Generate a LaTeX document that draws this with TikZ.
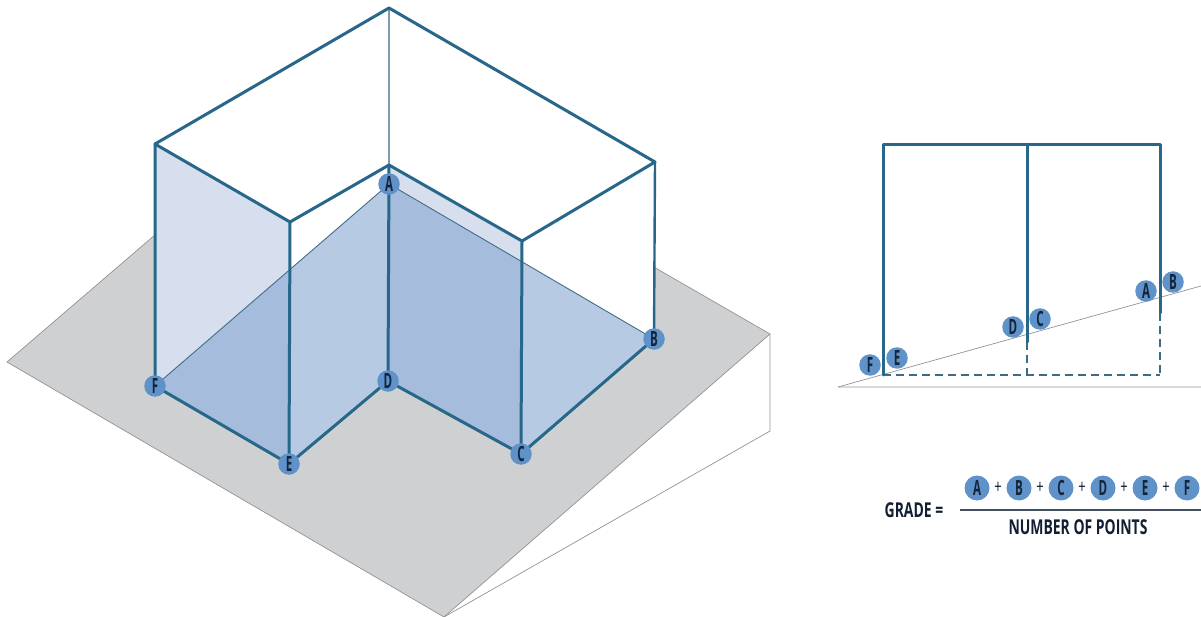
\documentclass[tikz,border=0pt]{standalone}
\usepackage{fontspec}
\setmainfont[FakeStretch=0.68]{Open Sans}
\newfontfamily\dotfont[FakeStretch=0.55]{Open Sans}
\usepackage{xcolor}
\usetikzlibrary{positioning, calc}
\definecolor{frameblue}{HTML}{26678A}
\definecolor{dotblue}{HTML}{5E92C8}
\definecolor{inkblue}{HTML}{14243A}
\definecolor{lotgray}{HTML}{CFD0D2}
\definecolor{wallblue}{HTML}{D7DFEE}
\definecolor{slopeblue}{HTML}{B7CAE4}
\definecolor{overlapblue}{HTML}{A6BCDC}
\tikzset{
  dot/.style={circle,fill=dotblue,inner sep=0pt,minimum size=21.5pt,text=inkblue,
    font=\dotfont\fontsize{21}{21}\selectfont\bfseries},
  bigdot/.style={dot,minimum size=25pt},
  frame/.style={draw=frameblue,line width=3pt,line join=round,line cap=round},
  thinframe/.style={draw=frameblue!60!gray!70,line width=1.4pt},
  hairline/.style={draw=gray!85,line width=0.7pt},
  slopeline/.style={draw=frameblue!70!gray,line width=0.9pt},
  dropline/.style={draw=frameblue!80!gray,line width=1.1pt,dash pattern=on 8pt off 5pt},
  formula/.style={text=inkblue!85!black,font=\fontsize{20.5}{20.5}\selectfont\bfseries,inner sep=0pt},
  plussign/.style={text=inkblue!85!black,font=\fontsize{19}{19}\selectfont,inner sep=0pt}
}
\begin{document}
\begin{tikzpicture}[x=1pt,y=-1pt]
  \useasboundingbox (0,0) rectangle (1201,617);

  \coordinate (lotL) at (7,362);
  \coordinate (lotT) at (333,82);
  \coordinate (lotR) at (770,334);
  \coordinate (lotB) at (444,617);
  \coordinate (lotD) at (770,431);
  \coordinate (topF) at (155,144);
  \coordinate (topE) at (290,222);
  \coordinate (topD) at (389,165);
  \coordinate (topC) at (522,241);
  \coordinate (topB) at (655,162);
  \coordinate (apex) at (389,8);
  \coordinate (baseA) at (389,184);
  \coordinate (baseB) at (654,339);
  \coordinate (baseC) at (521,454);
  \coordinate (baseD) at (388,381);
  \coordinate (baseE) at (289,464);
  \coordinate (baseF) at (155,386);

  \draw[hairline,fill=lotgray] (lotL) -- (lotT) -- (lotR) -- (lotB) -- cycle;
  \draw[hairline] (lotR) -- (lotD) -- (lotB);
  \fill[white] (topF) -- (apex) -- (topB) -- (baseB) -- (baseC) -- (baseD) -- (baseE) -- (baseF) -- cycle;
  \fill[slopeblue] (baseF) -- (baseA) -- (baseB) -- (baseC) -- (baseD) -- (baseE) -- cycle;
  \fill[wallblue] (topF) -- (topE) -- (baseE) -- (baseF) -- cycle;
  \fill[wallblue] (topD) -- (topC) -- (baseC) -- (baseD) -- cycle;
  \fill[overlapblue] (baseF) -- ($(baseF)!0.5755!(baseA)$) -- (baseE) -- cycle;
  \fill[overlapblue] (baseA) -- ($(baseA)!0.5!(baseB)$) -- (baseC) -- (baseD) -- cycle;

  \draw[slopeline] (baseF) -- (baseA) -- (baseB);
  \draw[thinframe] (apex) -- (topD);
  \draw[frame] (topF) -- (apex) -- (topB) -- (topC) -- (topD) -- (topE) -- cycle;
  \draw[frame] (topF) -- (baseF) -- (baseE) -- (baseD) -- (baseC) -- (baseB);
  \draw[frame] (topE) -- (baseE);
  \draw[frame] (topD) -- (baseD);
  \draw[frame] (topC) -- (baseC);
  \draw[frame,line width=2.4pt] (topB) -- (baseB);

  \node[dot] (ptA) at (baseA) {A};
  \node[dot] (ptB) at (baseB) {B};
  \node[dot] (ptC) at (baseC) {C};
  \node[dot] (ptD) at (baseD) {D};
  \node[dot] (ptE) at (baseE) {E};
  \node[dot] (ptF) at (baseF) {F};

  \coordinate (cutL) at (838,387);
  \coordinate (cutR) at (1201,286);
  \coordinate (flatR) at (1201,387);
  \coordinate (cutF) at (883,145);
  \coordinate (cutM) at (1027,145);
  \coordinate (cutA) at (1160,145);
  \coordinate (footF) at (883,375);
  \coordinate (footM) at (1027,342);
  \coordinate (footA) at (1160,313);
  \coordinate (dropM) at (1027,375);
  \coordinate (dropA) at (1160,375);

  \draw[draw=gray!30,line width=1.5pt] (cutL) -- (flatR);
  \draw[hairline] (cutL) -- (cutR);
  \draw[dropline] (footF) -- (dropA);
  \draw[dropline] (footM) -- (dropM);
  \draw[dropline] (footA) -- (dropA);
  \draw[frame] (footF) -- (cutF) -- (cutA) -- (footA);
  \draw[frame] (cutM) -- (footM);

  \node[dot] (cutptF) at (870,365) {F};
  \node[dot] (cutptE) at (897,358) {E};
  \node[dot] (cutptD) at (1013,327) {D};
  \node[dot] (cutptC) at (1040,319) {C};
  \node[dot] (cutptA) at (1146,291) {A};
  \node[dot] (cutptB) at (1173,282) {B};

  \node[formula] (grade) at (914,510) {GRADE =};
  \node[bigdot] (sumA) at (977,488) {A};
  \node[bigdot,right=16.6pt of sumA] (sumB) {B};
  \node[bigdot,right=16.6pt of sumB] (sumC) {C};
  \node[bigdot,right=16.6pt of sumC] (sumD) {D};
  \node[bigdot,right=16.6pt of sumD] (sumE) {E};
  \node[bigdot,right=16.6pt of sumE] (sumF) {F};
  \node[plussign] (plusA) at ($(sumA)!0.5!(sumB)$) {+};
  \node[plussign] (plusB) at ($(sumB)!0.5!(sumC)$) {+};
  \node[plussign] (plusC) at ($(sumC)!0.5!(sumD)$) {+};
  \node[plussign] (plusD) at ($(sumD)!0.5!(sumE)$) {+};
  \node[plussign] (plusE) at ($(sumE)!0.5!(sumF)$) {+};
  \coordinate (barL) at (960,510);
  \coordinate (barR) at (1201,510);
  \draw[draw=inkblue!80,line width=1.2pt] (barL) -- (barR);
  \node[formula] (points) at (1078,527) {NUMBER OF POINTS};
\end{tikzpicture}
\end{document}
